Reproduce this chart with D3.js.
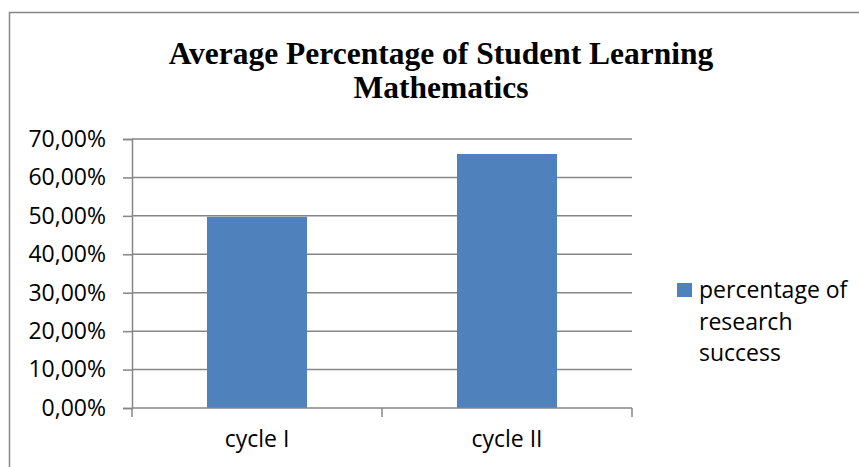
<!DOCTYPE html>
<html>
<head>
<meta charset="utf-8">
<script src="https://cdn.jsdelivr.net/npm/d3@7"></script>
<style>
  body { margin: 0; background: #fff; }
</style>
</head>
<body>
<div id="viz"></div>
<script>
// data
let categories = ["cycle I", "cycle II"]
let values = [0.4975, 0.6610]
let yTicks = [0, 0.1, 0.2, 0.3, 0.4, 0.5, 0.6, 0.7]
let titleLines = ["Average Percentage of Student Learning", "Mathematics"]
let seriesName = ["percentage of", "research", "success"]

let width = 859
let height = 467
let plot = {left: 132, right: 632, top: 139, bottom: 408}
let barColor = "#4F81BD"
let gridColor = "#868686"
let labelFont = "'Open Sans', sans-serif"
let labelSize = 23

let svg = d3.select('#viz').append('svg').attr("width", width).attr("height", height)

// outer chart border (runs off right and bottom of the picture)
svg.append("rect").attr("x", 9.5).attr("y", 12.5).attr("width", 900).attr("height", 500)
   .attr("fill", "none").attr("stroke", gridColor).attr("stroke-width", 1.5)

// title
svg.append("text").attr("text-anchor", "middle").attr("font-family", "'Liberation Serif', 'Times New Roman', serif")
   .attr("font-weight", "bold").attr("font-size", 31.5).attr("fill", "#000")
   .selectAll("tspan").data(titleLines).join("tspan")
   .attr("x", 441).attr("y", (d, i) => 64 + i * 34).text(d => d)

let x = d3.scaleBand().domain(categories).range([plot.left, plot.right]).paddingInner(0.6).paddingOuter(0.3)
let y = d3.scaleLinear().domain([0, 0.7]).range([plot.bottom, plot.top])

let pct = d3.formatLocale({decimal: ",", thousands: ".", grouping: [3], currency: ["", ""]}).format(".2%")

// gridlines
svg.append("g").selectAll("line").data(yTicks.filter(d => d > 0)).join("line")
   .attr("x1", plot.left).attr("x2", plot.right).attr("y1", d => y(d)).attr("y2", d => y(d))
   .attr("stroke", gridColor).attr("stroke-width", 1.5)

// bars
svg.append("g").selectAll("rect").data(values).join("rect")
   .attr("x", (d, i) => x(categories[i])).attr("width", x.bandwidth())
   .attr("y", d => y(d)).attr("height", d => y(0) - y(d))
   .attr("fill", barColor)

// y axis
let yAxis = svg.append("g").attr("transform", `translate(${plot.left},0)`)
   .call(d3.axisLeft(y).tickValues(yTicks).tickFormat(pct).tickSize(9).tickPadding(17))
yAxis.select(".domain").attr("stroke", gridColor).attr("stroke-width", 1.5)
yAxis.selectAll(".tick line").attr("stroke", gridColor).attr("stroke-width", 1.5)
yAxis.selectAll(".tick text").attr("font-family", labelFont).attr("font-size", labelSize).attr("fill", "#000")

// x axis with tick marks at category boundaries
let xAxis = svg.append("g").attr("transform", `translate(0,${plot.bottom})`)
xAxis.append("line").attr("x1", plot.left).attr("x2", plot.right)
   .attr("stroke", gridColor).attr("stroke-width", 1.5)
let step = (plot.right - plot.left) / categories.length
xAxis.selectAll(".xt").data(d3.range(categories.length + 1)).join("line").attr("class", "xt")
   .attr("x1", i => plot.left + i * step).attr("x2", i => plot.left + i * step)
   .attr("y1", 0).attr("y2", 9).attr("stroke", gridColor).attr("stroke-width", 1.5)
xAxis.selectAll("text").data(categories).join("text")
   .attr("x", d => x(d) + x.bandwidth() / 2).attr("y", 33)
   .attr("dominant-baseline", "middle").attr("text-anchor", "middle")
   .attr("font-family", labelFont).attr("font-size", labelSize).attr("fill", "#000").text(d => d)

// legend
let legend = svg.append("g")
legend.append("rect").attr("x", 677).attr("y", 283).attr("width", 15).attr("height", 14).attr("fill", barColor)
legend.append("text").attr("font-family", labelFont).attr("font-size", labelSize).attr("fill", "#000")
   .selectAll("tspan").data(seriesName).join("tspan")
   .attr("x", 699).attr("y", (d, i) => 298 + i * 31.5).text(d => d)
</script>
</body>
</html>
